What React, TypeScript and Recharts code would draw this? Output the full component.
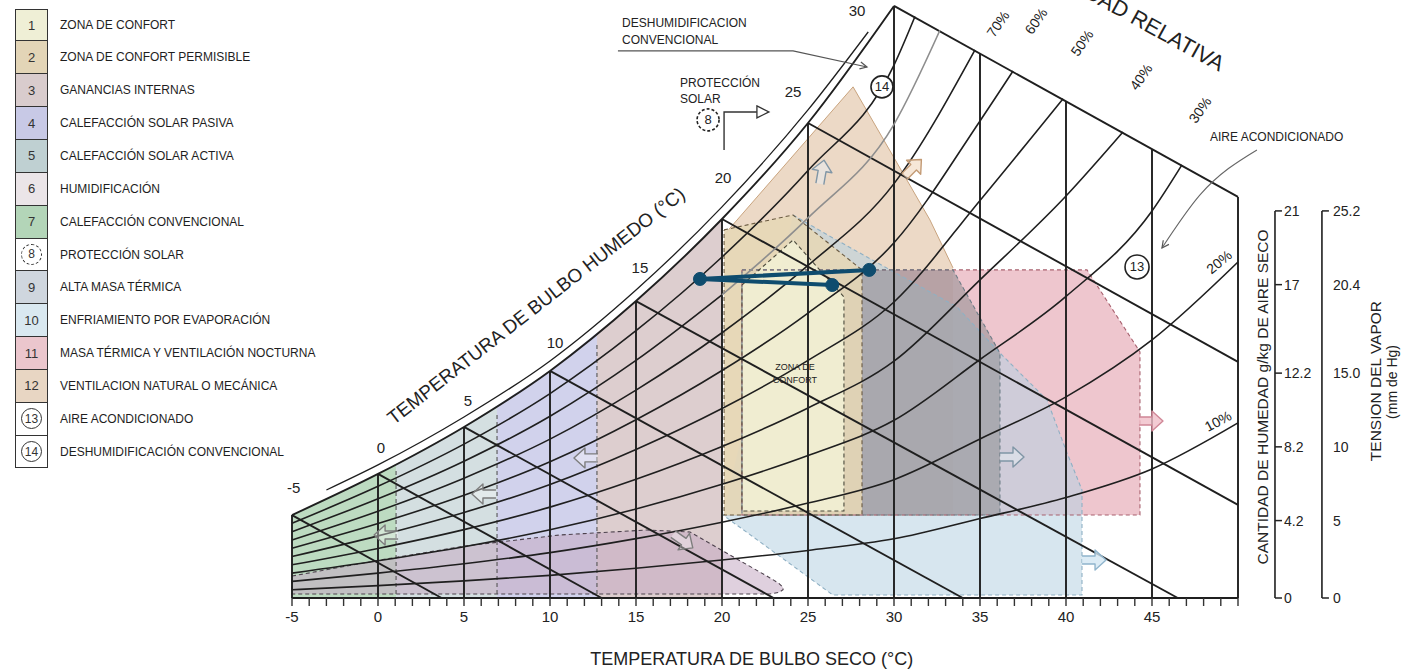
import React from 'react';
import { ComposedChart, Line, Area, Scatter, XAxis, YAxis } from 'recharts';

const FONT = '"Liberation Sans", Arial, Helvetica, sans-serif';

// x = dry bulb temperature (°C), y = moisture on the chart's own scale (g/kg)

const X_TICKS = [
  -5, -4, -3, -2, -1, 0, 1, 2, 3, 4, 5, 6, 7, 8, 9, 10, 11, 12, 13, 14, 15, 16, 17, 18, 19, 20,
  21, 22, 23, 24, 25, 26, 27, 28, 29, 30, 31, 32, 33, 34, 35, 36, 37, 38, 39, 40, 41, 42, 43,
  44, 45, 46, 47, 48, 49, 50,
];

// vertical dry bulb lines: [temperature, height where they stop]
const DRY_BULB_LINES = [
  [-5, 4.5], [0, 6.73], [5, 9.28], [10, 12.32], [15, 16.11], [20, 20.56],
  [25, 25.77], [30, 32.12], [35, 29.53], [40, 26.94], [45, 24.35], [50, 21.76],
];

const SATURATION = [
  [-5, 4.5], [0, 6.73], [5, 9.28], [10, 12.32], [15, 16.11], [20, 20.56], [25, 25.77], [30, 32.12],
];

// thin border line drawn just outside the saturation curve
const SAT_BORDER = [
  [-3, 5.86], [0, 7.22], [5, 9.82], [10, 12.86], [15, 16.71], [20, 21.22], [25, 26.48], [28.5, 30.71],
];

const RH_90 = [[-5, 4.05], [0, 6.06], [5, 8.35], [10, 11.09], [15, 14.5], [20, 18.5], [25, 23.19], [30, 28.91], [31.22, 31.55]];
const RH_80_LOW = [[-5, 3.6], [0, 5.38], [5, 7.42], [10, 9.86], [15, 12.89], [20, 16.45]];
const RH_80_HIGH = [[20, 16.45], [25, 20.62], [30, 25.7], [32.67, 30.8]];
const RH_70 = [[-5, 3.15], [0, 4.71], [5, 6.5], [10, 8.62], [15, 11.28], [20, 14.39], [25, 18.04], [30, 22.48], [34.71, 29.74]];
const RH_60 = [[-5, 2.7], [0, 4.04], [5, 5.57], [10, 7.39], [15, 9.67], [20, 12.34], [25, 15.46], [30, 19.27], [35, 25.88], [36.92, 28.59]];
const RH_50 = [[-5, 2.25], [0, 3.37], [5, 4.64], [10, 6.16], [15, 8.06], [20, 10.28], [25, 12.89], [30, 16.06], [35, 21.57], [39.83, 27.09]];
const RH_40 = [[-5, 1.8], [0, 2.69], [5, 3.71], [10, 4.93], [15, 6.44], [20, 8.22], [25, 10.31], [30, 12.85], [35, 17.26], [40, 21.81], [43.31, 25.28]];
const RH_30 = [[-5, 1.35], [0, 2.02], [5, 2.78], [10, 3.7], [15, 4.83], [20, 6.17], [25, 7.73], [30, 9.64], [35, 12.94], [40, 16.36], [45, 21.0], [46.74, 23.5]];
const RH_20 = [[-5, 0.9], [0, 1.35], [5, 1.86], [10, 2.46], [15, 3.22], [20, 4.11], [25, 5.15], [30, 6.42], [35, 8.63], [40, 10.91], [45, 14.0], [50, 18.23]];
const RH_10 = [[-5, 0.45], [0, 0.67], [5, 0.93], [10, 1.23], [15, 1.61], [20, 2.06], [25, 2.58], [30, 3.21], [35, 4.31], [40, 5.45], [45, 7.0], [50, 9.5]];

// wet bulb lines: start on saturation, end on the bottom / right edge
const WET_BULB_LINES = [
  [[-5, 4.5], [3.7, 0]],
  [[0, 6.73], [13.0, 0]],
  [[5, 9.28], [23.0, 0]],
  [[10, 12.32], [34.0, 0]],
  [[15, 16.11], [46.5, 0]],
  [[20, 20.56], [50, 5.05]],
  [[25, 25.77], [50, 12.81]],
  [[30, 32.12], [50, 21.76]],
];

const BASE_LINE = [[-5, 0], [50, 0]];

// zones: [temperature, lower, upper]
const ZONE_7 = [[-5, 0, 4.5], [0, 0, 6.73], [1.05, 0, 7.27]];
const ZONE_5 = [[1.05, 0, 7.27], [5, 0, 9.28], [6.92, 0, 10.45]];
const ZONE_4 = [[6.92, 0, 10.45], [10, 0, 12.32], [12.73, 0, 14.39]];
const ZONE_3 = [[12.73, 0, 14.39], [15, 0, 16.11], [17.5, 0, 18.2], [20, 0, 20.56]];
const ZONE_6 = [
  [-5, 0.22, 1.19], [0.12, 0.22, 2.06], [5.06, 0.22, 2.82], [10.58, 0.22, 3.42],
  [15.64, 0.22, 3.69], [18.14, 0.22, 3.58], [22.79, 0.22, 1.09], [23.3, 0.3, 0.8], [23.55, 0.45, 0.58],
];
const ZONE_12 = [[20.12, 4.5, 19.7], [27.62, 4.5, 27.73], [32.09, 4.5, 20.51], [33.43, 4.5, 17.91]];
const ZONE_11 = [[21.16, 4.5, 17.8], [41.22, 4.5, 17.8], [44.3, 4.5, 13.35]];
const ZONE_10 = [
  [20.06, 4.5, 4.5], [24.13, 1.74, 20.78], [26.45, 0.16, 19.53], [28.43, 0.16, 18.5],
  [33.66, 0.16, 15.79], [36.16, 0.16, 13.29], [38.9, 0.16, 10.74], [40.06, 0.16, 7.87], [40.93, 0.16, 5.86],
];
const ZONE_9 = [[21.16, 4.5, 17.8], [33.43, 4.5, 17.8], [36.16, 4.5, 13.29]];
const ZONE_2 = [[20.12, 4.5, 19.97], [24.13, 4.5, 20.78], [28.14, 4.5, 17.8]];
const ZONE_1 = [[21.16, 4.72, 16.98], [24.13, 4.72, 19.42], [27.09, 4.72, 16.33]];

// dashed limits between the heating zones: [temperature, from, to]
const DIVIDERS = [[1.05, 0.22, 6.9], [6.92, 0.22, 10.04], [12.73, 0.22, 13.84]];

// plotted climate line
const CLIMATE = [[26.41, 16.98], [18.72, 17.31], [28.56, 17.8]];

// right hand scales
const GKG_AXIS_T = 52.15;
const MM_AXIS_T = 54.88;
const GKG_TICKS = [0, 4.2, 8.2, 12.2, 17, 21];
const GKG_LABELS = ['0', '4.2', '8.2', '12.2', '17', '21'];
const MM_LABELS = ['0', '5', '10', '15.0', '20.4', '25.2'];

// leader lines of the notes
const LEADER_DESHUM = [[13.95, 29.68], [24.13, 29.68], [28.43, 28.81]];
const LEADER_AIRE = [[51.1, 24.31], [47.79, 21.87], [45.58, 18.99]];
const LEADER_PROT = [[20.12, 24.31], [20.12, 26.37], [22.03, 26.37]];

const TEXTS = [
  { t: -4.9, w: 6.02, text: '-5', kind: 'wb' },
  { t: 0.17, w: 8.19, text: '0', kind: 'wb' },
  { t: 5.23, w: 10.74, text: '5', kind: 'wb' },
  { t: 10.29, w: 13.84, text: '10', kind: 'wb' },
  { t: 15.23, w: 17.91, text: '15', kind: 'wb' },
  { t: 20.06, w: 22.79, text: '20', kind: 'wb' },
  { t: 24.13, w: 27.46, text: '25', kind: 'wb' },
  { t: 27.85, w: 31.9, text: '30', kind: 'wb' },
  { t: 36.05, w: 31.15, text: '70%', kind: 'rh', angle: -55 },
  { t: 38.26, w: 31.3, text: '60%', kind: 'rh', angle: -55 },
  { t: 40.93, w: 30.11, text: '50%', kind: 'rh', angle: -55 },
  { t: 44.36, w: 28.27, text: '40%', kind: 'rh', angle: -55 },
  { t: 47.79, w: 26.48, text: '30%', kind: 'rh', angle: -55 },
  { t: 48.9, w: 18.23, text: '20%', kind: 'rh', angle: -40 },
  { t: 48.84, w: 9.6, text: '10%', kind: 'rh', angle: -28 },
  { t: 14.19, w: 31.2, text: 'DESHUMIDIFICACION', kind: 'note' },
  { t: 14.19, w: 30.28, text: 'CONVENCIONAL', kind: 'note' },
  { t: 17.56, w: 27.94, text: 'PROTECCIÓN', kind: 'note' },
  { t: 17.56, w: 27.08, text: 'SOLAR', kind: 'note' },
  { t: 48.37, w: 25.01, text: 'AIRE ACONDICIONADO', kind: 'note' },
  { t: 24.24, w: 12.53, text: 'ZONA DE', kind: 'small' },
  { t: 24.24, w: 11.83, text: 'CONFORT', kind: 'small' },
  { t: 9.42, w: 15.57, text: 'TEMPERATURA DE BULBO HUMEDO (°C)', kind: 'big', angle: -38 },
  { t: 48.9, w: 28.54, text: 'HUMEDAD RELATIVA', kind: 'rel', angle: 29 },
  { t: 51.45, w: 10.91, text: 'CANTIDAD DE HUMEDAD g/kg DE AIRE SECO', kind: 'axis', angle: -90 },
  { t: 58.02, w: 11.77, text: 'TENSION DEL VAPOR', kind: 'axis', angle: -90 },
  { t: 58.95, w: 11.72, text: '(mm de Hg)', kind: 'axisSmall', angle: -90 },
];

const CIRCLES = [
  { t: 19.19, w: 25.94, n: '8', dashed: true },
  { t: 29.3, w: 27.73, n: '14' },
  { t: 44.13, w: 17.96, n: '13' },
];

const ARROWS = [
  { t: 0.47, w: 3.42, dir: 180, c: 'g' },
  { t: 6.16, w: 5.64, dir: 180, c: 'g' },
  { t: 12.09, w: 7.6, dir: 180, c: 'g' },
  { t: 17.73, w: 3.09, dir: 35, c: 'g' },
  { t: 25.81, w: 23.11, dir: -80, c: 'b' },
  { t: 31.1, w: 23.33, dir: -45, c: 't' },
  { t: 36.86, w: 7.65, dir: 0, c: 'b' },
  { t: 44.94, w: 9.6, dir: 0, c: 'p' },
  { t: 41.63, w: 2.06, dir: 0, c: 'l' },
];

const HEADS = [
  { t: 28.43, w: 28.81, dir: 12, open: false },
  { t: 45.58, w: 18.99, dir: 126, open: false },
  { t: 22.03, w: 26.37, dir: 0, open: true },
];

const LEGEND_LABELS = [
  'ZONA DE CONFORT',
  'ZONA DE CONFORT PERMISIBLE',
  'GANANCIAS INTERNAS',
  'CALEFACCIÓN SOLAR PASIVA',
  'CALEFACCIÓN SOLAR ACTIVA',
  'HUMIDIFICACIÓN',
  'CALEFACCIÓN CONVENCIONAL',
  'PROTECCIÓN SOLAR',
  'ALTA MASA TÉRMICA',
  'ENFRIAMIENTO POR EVAPORACIÓN',
  'MASA TÉRMICA Y VENTILACIÓN NOCTURNA',
  'VENTILACION NATURAL O MECÁNICA',
  'AIRE ACONDICIONADO',
  'DESHUMIDIFICACIÓN CONVENCIONAL',
];
const LEGEND_COLORS = [
  '#efefd6', '#e3d5b7', '#d9cccd', '#c8c9e6', '#bfd0d2', '#ebe5e8', '#b3d5b8',
  '#ffffff', '#cfd6de', '#d9e8f0', '#ebc6cd', '#e8d6c3', '#ffffff', '#ffffff',
];
const LEGEND_RINGS = { 8: 'dashed', 13: 'solid', 14: 'solid' };

// ---------------------------------------------------------------

const pts = (arr) => arr.map(([t, w]) => ({ t, w }));
const band = (arr) => arr.map(([t, lo, hi]) => ({ t, w: [lo, hi] }));
const outline = (arr) => [
  ...arr.map(([t, , hi]) => ({ t, w: hi })),
  ...[...arr].reverse().map(([t, lo]) => ({ t, w: lo })),
  { t: arr[0][0], w: arr[0][2] },
];

const INK = '#1f1f1f';

const RH_LINES = [
  { d: RH_90, c: INK }, { d: RH_80_LOW, c: INK }, { d: RH_80_HIGH, c: '#8e8e8e' }, { d: RH_70, c: INK },
  { d: RH_60, c: INK }, { d: RH_50, c: INK }, { d: RH_40, c: INK }, { d: RH_30, c: INK },
  { d: RH_20, c: INK }, { d: RH_10, c: INK },
];

const ZONE_FILLS = [
  { d: ZONE_7, fill: '#acd2b2', op: 0.8 },
  { d: ZONE_5, fill: '#c9d7da', op: 0.8 },
  { d: ZONE_4, fill: '#c4c5e7', op: 0.78 },
  { d: ZONE_3, fill: '#d4c2c3', op: 0.8 },
  { d: ZONE_12, fill: '#e4cbb0', op: 0.72, stroke: '#c9a47f' },
  { d: ZONE_11, fill: '#e8b3bd', op: 0.75 },
  { d: ZONE_10, fill: '#b6d2e2', op: 0.55 },
  { d: ZONE_9, fill: '#85878a', op: 0.5 },
  { d: ZONE_2, fill: '#e6d7b6', op: 0.88 },
  { d: ZONE_1, fill: '#f1efd3', op: 0.93 },
  { d: ZONE_6, fill: '#c4aac2', op: 0.55 },
];

const ZONE_OUTLINES = [
  { d: outline(ZONE_11), c: '#a8606e' },
  { d: outline(ZONE_10).slice(1, -1), c: '#8fb0c4' },
  { d: outline(ZONE_9), c: '#6d7c86' },
  { d: outline(ZONE_2), c: '#6b5b42' },
  { d: outline(ZONE_1), c: '#4b4a3c' },
  { d: outline(ZONE_6), c: '#4d424d' },
];

const TEXT_STYLE = {
  wb: { size: 15, anchor: 'middle', base: 'central' },
  rh: { size: 14, anchor: 'middle', base: 'central' },
  note: { size: 12, anchor: 'start', base: 'central' },
  small: { size: 9, anchor: 'middle', base: 'central' },
  big: { size: 19, anchor: 'middle', base: 'alphabetic' },
  rel: { size: 22, anchor: 'end', base: 'alphabetic' },
  axis: { size: 15.5, anchor: 'middle', base: 'central' },
  axisSmall: { size: 14, anchor: 'middle', base: 'central' },
};

const ARROW_COLORS = {
  g: { fill: 'rgba(255,255,255,0.35)', stroke: '#7d7d7d' },
  b: { fill: 'rgba(230,238,244,0.5)', stroke: '#8096a6' },
  t: { fill: 'rgba(240,215,190,0.6)', stroke: '#c39a74' },
  p: { fill: 'rgba(240,190,200,0.8)', stroke: '#d08797' },
  l: { fill: 'rgba(210,230,242,0.8)', stroke: '#8fb4cc' },
};

function TextMark(props) {
  const { cx, cy, payload } = props;
  const st = TEXT_STYLE[payload.kind];
  const a = payload.angle || 0;
  return (
    <text
      x={cx}
      y={cy}
      fontSize={st.size}
      textAnchor={st.anchor}
      dominantBaseline={st.base}
      fill="#222"
      transform={a ? `rotate(${a} ${cx} ${cy})` : undefined}
    >
      {payload.text}
    </text>
  );
}

function CircleMark(props) {
  const { cx, cy, payload } = props;
  const r = payload.n === '13' ? 12 : 11;
  return (
    <g>
      <circle cx={cx} cy={cy} r={r} fill="#fff" stroke="#222" strokeWidth={1.6}
        strokeDasharray={payload.dashed ? '3 2' : undefined} />
      <text x={cx} y={cy} fontSize={13} textAnchor="middle" dominantBaseline="central" fill="#222">
        {payload.n}
      </text>
    </g>
  );
}

function ArrowMark(props) {
  const { cx, cy, payload } = props;
  const col = ARROW_COLORS[payload.c];
  return (
    <path
      d="M -12 -4 L 1 -4 L 1 -10 L 12 0 L 1 10 L 1 4 L -12 4"
      transform={`translate(${cx} ${cy}) rotate(${payload.dir})`}
      fill={col.fill}
      stroke={col.stroke}
      strokeWidth={1.4}
      strokeLinejoin="round"
    />
  );
}

function HeadMark(props) {
  const { cx, cy, payload } = props;
  if (payload.open) {
    return (
      <path d="M 0 -6 L 12 0 L 0 6 Z" transform={`translate(${cx} ${cy}) rotate(${payload.dir})`}
        fill="#fff" stroke="#333" strokeWidth={1.3} />
    );
  }
  return (
    <path d="M -7 -3.5 L 0 0 L -7 3.5" transform={`translate(${cx} ${cy}) rotate(${payload.dir})`}
      fill="none" stroke="#555" strokeWidth={1.2} />
  );
}

function GkgTick(props) {
  const { cx, cy, payload } = props;
  return (
    <g>
      <line x1={cx} y1={cy} x2={cx + 7} y2={cy} stroke="#222" strokeWidth={1.5} />
      <text x={cx + 9} y={cy} fontSize={14} dominantBaseline="central" fill="#222">{payload.label}</text>
    </g>
  );
}

function MmTick(props) {
  const { cx, cy, payload } = props;
  return (
    <g>
      {payload.edge ? <line x1={cx} y1={cy} x2={cx + 7} y2={cy} stroke="#222" strokeWidth={1.5} /> : null}
      <text x={cx + 11} y={cy} fontSize={14} dominantBaseline="central" fill="#222">{payload.label}</text>
    </g>
  );
}

function ZoneLegend() {
  const row = 32.85;
  return (
    <div style={{ position: 'absolute', left: 15, top: 8.6, fontFamily: FONT }}>
      {LEGEND_LABELS.map((label, i) => {
        const n = i + 1;
        const ring = LEGEND_RINGS[n];
        return (
          <div key={label} style={{ position: 'absolute', left: 0, top: i * row, width: 340, height: row }}>
            <div
              style={{
                position: 'absolute', left: 0, top: 0, width: 33, height: row, boxSizing: 'border-box',
                background: LEGEND_COLORS[i], borderLeft: '1.6px solid #333', borderRight: '1.6px solid #333',
                borderBottom: '1.6px solid #333', borderTop: i === 0 ? '1.6px solid #333' : 'none',
                display: 'flex', alignItems: 'center', justifyContent: 'center', fontSize: 13, color: '#333',
              }}
            >
              {ring ? (
                <span
                  style={{
                    width: 19, height: 19, borderRadius: '50%', border: `1.5px ${ring} #333`,
                    display: 'flex', alignItems: 'center', justifyContent: 'center', fontSize: 12,
                  }}
                >
                  {n}
                </span>
              ) : n}
            </div>
            <div
              style={{
                position: 'absolute', left: 45, top: 0, height: row, lineHeight: `${row}px`,
                fontSize: 12, color: '#1e1e1e', whiteSpace: 'nowrap',
              }}
            >
              {label}
            </div>
          </div>
        );
      })}
    </div>
  );
}

const lineProps = { dot: false, activeDot: false, isAnimationActive: false };

export default function App() {
  const gkgTicks = GKG_TICKS.map((w, i) => ({ t: GKG_AXIS_T, w, label: GKG_LABELS[i] }));
  const mmTicks = GKG_TICKS.map((w, i) => ({
    t: MM_AXIS_T, w, label: MM_LABELS[i], edge: i === 0 || i === GKG_TICKS.length - 1,
  }));

  return (
    <div style={{ position: 'absolute', left: 0, top: 0, width: 1408, height: 670, background: '#fff', fontFamily: FONT }}>
      <ComposedChart width={1408} height={670} margin={{ top: 3, right: 6.6, bottom: 0, left: 292 }}>
        <XAxis
          dataKey="t"
          type="number"
          domain={[-5, 59.5]}
          ticks={X_TICKS}
          interval={0}
          tickFormatter={(v) => (v % 5 === 0 && v <= 45 ? String(v) : '')}
          axisLine={false}
          tickLine={{ stroke: '#333', strokeWidth: 1.4 }}
          tickSize={8}
          tickMargin={5}
          tick={{ fontSize: 15, fill: '#222' }}
          height={72}
          label={{
            value: 'TEMPERATURA DE BULBO SECO (°C)', position: 'insideBottom', offset: 5, dx: -95,
            fontSize: 18, fill: '#222',
          }}
        />
        <YAxis type="number" domain={[0, 32.28]} hide />

        {ZONE_FILLS.map((z, i) => (
          <Area key={`zf${i}`} data={band(z.d)} dataKey="w" type="linear" fill={z.fill} fillOpacity={z.op}
            stroke={z.stroke || 'none'} strokeWidth={1} isAnimationActive={false} dot={false} activeDot={false} />
        ))}
        {ZONE_OUTLINES.map((z, i) => (
          <Line key={`zo${i}`} data={z.d} dataKey="w" type="linear" stroke={z.c} strokeWidth={1.1}
            strokeDasharray="4 3" {...lineProps} />
        ))}
        {DIVIDERS.map(([t, lo, hi], i) => (
          <Line key={`dv${i}`} data={pts([[t, lo], [t, hi]])} dataKey="w" type="linear" stroke="#555"
            strokeWidth={1.1} strokeDasharray="4 3" {...lineProps} />
        ))}

        {DRY_BULB_LINES.map(([t, top], i) => (
          <Line key={`db${i}`} data={pts([[t, 0], [t, top]])} dataKey="w" type="linear" stroke={INK}
            strokeWidth={1.9} {...lineProps} />
        ))}
        {WET_BULB_LINES.map((seg, i) => (
          <Line key={`wb${i}`} data={pts(seg)} dataKey="w" type="linear" stroke={INK} strokeWidth={1.9} {...lineProps} />
        ))}
        {RH_LINES.map((r, i) => (
          <Line key={`rh${i}`} data={pts(r.d)} dataKey="w" type="monotone" stroke={r.c} strokeWidth={1.6} {...lineProps} />
        ))}
        <Line data={pts(SATURATION)} dataKey="w" type="monotone" stroke={INK} strokeWidth={1.9} {...lineProps} />
        <Line data={pts(SAT_BORDER)} dataKey="w" type="monotone" stroke={INK} strokeWidth={1.3} {...lineProps} />
        <Line data={pts(BASE_LINE)} dataKey="w" type="linear" stroke={INK} strokeWidth={2} {...lineProps} />

        <Line data={pts([[GKG_AXIS_T, 0], [GKG_AXIS_T, 21]])} dataKey="w" type="linear" stroke={INK} strokeWidth={1.6} {...lineProps} />
        <Line data={pts([[MM_AXIS_T, 0], [MM_AXIS_T, 21]])} dataKey="w" type="linear" stroke={INK} strokeWidth={1.6} {...lineProps} />

        <Line data={pts(LEADER_DESHUM)} dataKey="w" type="linear" stroke="#555" strokeWidth={1.1} {...lineProps} />
        <Line data={pts(LEADER_AIRE)} dataKey="w" type="monotone" stroke="#666" strokeWidth={1.1} {...lineProps} />
        <Line data={pts(LEADER_PROT)} dataKey="w" type="linear" stroke="#333" strokeWidth={1.4} {...lineProps} />

        <Line
          data={pts(CLIMATE)}
          dataKey="w"
          type="linear"
          stroke="#0f4c6e"
          strokeWidth={4}
          dot={{ r: 6.5, fill: '#0f4c6e', stroke: '#0f4c6e', strokeWidth: 1 }}
          activeDot={false}
          isAnimationActive={false}
        />

        <Scatter data={ARROWS} dataKey="w" shape={(p) => <ArrowMark {...p} />} isAnimationActive={false} />
        <Scatter data={HEADS} dataKey="w" shape={(p) => <HeadMark {...p} />} isAnimationActive={false} />
        <Scatter data={CIRCLES} dataKey="w" shape={(p) => <CircleMark {...p} />} isAnimationActive={false} />
        <Scatter data={TEXTS} dataKey="w" shape={(p) => <TextMark {...p} />} isAnimationActive={false} />
        <Scatter data={gkgTicks} dataKey="w" shape={(p) => <GkgTick {...p} />} isAnimationActive={false} />
        <Scatter data={mmTicks} dataKey="w" shape={(p) => <MmTick {...p} />} isAnimationActive={false} />
      </ComposedChart>
      <ZoneLegend />
    </div>
  );
}
